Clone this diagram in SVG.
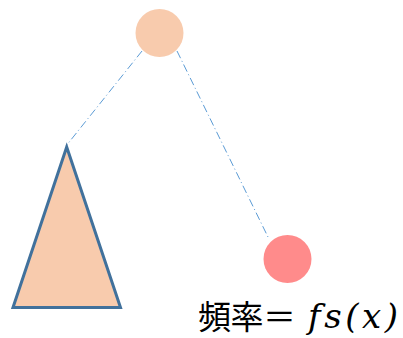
<svg xmlns="http://www.w3.org/2000/svg" width="403" height="338" viewBox="0 0 403 338">
<style>
.conn{stroke:#5B9BD5;stroke-width:1;fill:none;stroke-dasharray:8 3 1 3}
.cjk{font-family:"Noto Sans CJK JP","Noto Sans CJK SC",sans-serif;font-size:33px;fill:#000}
.math{font-family:"DejaVu Serif",serif;font-style:italic;font-size:34px;fill:#000}
</style>
<g id="connectors">
<line class="conn" x1="142" y1="51" x2="66" y2="146"/>
<line class="conn" x1="177" y1="51" x2="268" y2="237"/>
</g>
<g id="root">
<circle cx="159.5" cy="33" r="24" fill="#F8CBAD"/>
</g>
<g id="subtree">
<polygon points="66.7,147 13,307.5 120.5,307.5" fill="#F8CBAD" stroke="#41719C" stroke-width="3" stroke-linejoin="miter"/>
</g>
<g id="leaf">
<circle cx="287.5" cy="259" r="24" fill="#FF8B8B"/>
</g>
<g id="label">
<text class="cjk" y="329" x="198" textLength="98" lengthAdjust="spacing">頻率＝</text>
<text class="math" y="328" x="308" textLength="90" lengthAdjust="spacing">fs(x)</text>
</g>
</svg>
